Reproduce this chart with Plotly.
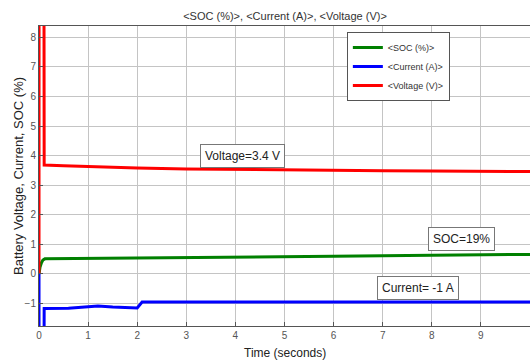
import plotly.graph_objects as go

# --- data ---
volt_t = [0, 0.001, 0.1, 0.105, 0.5, 1, 2, 3, 4, 5, 6, 7, 8, 9, 10]
volt_v = [0, 12, 12, 3.68, 3.66, 3.63, 3.58, 3.55, 3.53, 3.51, 3.50, 3.49, 3.48, 3.47, 3.46]

curr_t = [0, 0.001, 0.1, 0.105, 0.6, 1.0, 1.2, 1.5, 1.9, 2.0, 2.1, 3, 5, 8, 10]
curr_v = [0, -5, -5, -1.17, -1.16, -1.11, -1.08, -1.12, -1.16, -1.15, -0.95, -0.95, -0.95, -0.95, -0.95]

soc_t = [0, 0.02, 0.05, 0.08, 0.12, 1, 2, 4, 6, 8, 10]
soc_v = [0, 0.22, 0.38, 0.47, 0.51, 0.52, 0.54, 0.57, 0.60, 0.63, 0.66]

title_text = "<SOC (%)>, <Current (A)>, <Voltage (V)>"
x_title = "Time (seconds)"
y_title = "Battery Voltage, Current, SOC (%)"
x_ticks = list(range(0, 11))
y_ticks = list(range(-1, 9))

notes = [
    ("Voltage=3.4 V", 4.15, 3.98),
    ("SOC=19%", 8.6, 1.19),
    ("Current= -1 A", 7.72, -0.48),
]

font_family = "Liberation Sans, Arial, sans-serif"

fig = go.Figure()
fig.add_trace(go.Scatter(x=soc_t, y=soc_v, mode="lines", name="<SOC (%)>",
                         line=dict(color="#008000", width=3)))
fig.add_trace(go.Scatter(x=curr_t, y=curr_v, mode="lines", name="<Current (A)>",
                         line=dict(color="#0000ff", width=3)))
fig.add_trace(go.Scatter(x=volt_t, y=volt_v, mode="lines", name="<Voltage (V)>",
                         line=dict(color="#ff0000", width=3)))

for txt, x, y in notes:
    fig.add_annotation(x=x, y=y, xref="x", yref="y", text=txt, showarrow=False,
                       font=dict(family=font_family, size=12, color="#222"),
                       bgcolor="white", bordercolor="#777", borderwidth=1, borderpad=4)

fig.add_annotation(x=0.502, y=-0.09, xref="paper", yref="paper", text=x_title,
                   showarrow=False, yanchor="middle",
                   font=dict(family=font_family, size=12, color="#222"))
fig.add_annotation(x=-0.043, y=0.5, xref="paper", yref="paper", text=y_title,
                   showarrow=False, textangle=-90, xanchor="center",
                   font=dict(family=font_family, size=13, color="#222"))

W, H = 530, 361
fig.update_layout(
    width=W, height=H,
    margin=dict(l=39, r=0, t=26, b=35),
    paper_bgcolor="white", plot_bgcolor="white",
    font=dict(family=font_family),
    title=dict(text=title_text, x=285 / W, xanchor="center", y=1 - 16 / H,
               yanchor="middle", yref="container",
               font=dict(family=font_family, size=11, color="#333")),
    showlegend=True,
    legend=dict(x=0.627, y=0.98, xanchor="left", yanchor="top",
                bgcolor="white", bordercolor="#555", borderwidth=1,
                font=dict(family=font_family, size=9, color="#333"),
                tracegroupgap=0, itemwidth=30),
)
fig.update_xaxes(range=[0, 10], tickvals=x_ticks, showgrid=True, gridcolor="#c4c4c4",
                 zeroline=False, showline=True, linecolor="#555", mirror=True,
                 tickfont=dict(size=10, color="#555"),
                 ticks="inside", ticklen=4, tickcolor="#555")
fig.update_yaxes(range=[-1.76, 8.38], tickvals=y_ticks, showgrid=True, gridcolor="#c4c4c4",
                 zeroline=False, showline=True, linecolor="#555", mirror=True,
                 tickfont=dict(size=10, color="#555"),
                 ticks="inside", ticklen=4, tickcolor="#555")

fig.write_html("out.html", config={"displayModeBar": False},
               post_script="document.body.style.margin='0';document.body.style.overflow='hidden';")
